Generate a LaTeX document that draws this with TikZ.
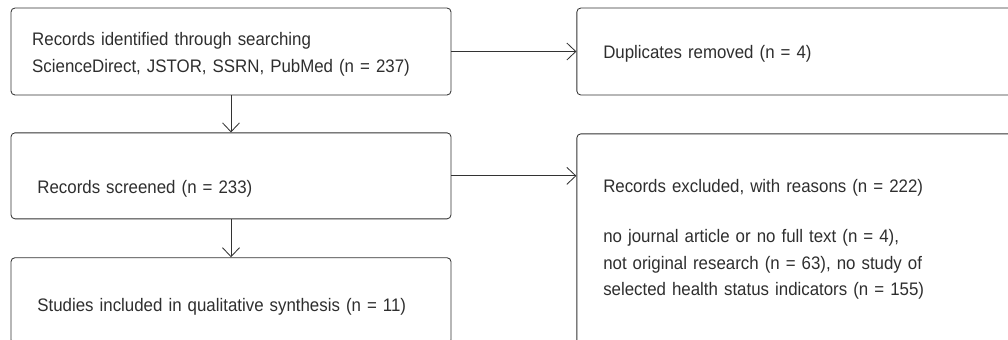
\documentclass[tikz,border=0pt]{standalone}
\usepackage{fontspec}
\setmainfont[FakeStretch=0.93]{Liberation Sans}
\usetikzlibrary{arrows.meta}
\usetikzlibrary{positioning}

\definecolor{linegray}{HTML}{333333}
\definecolor{textgray}{HTML}{2E2E2E}

\tikzset{
  box/.style={draw=linegray, line width=0.6pt, rounded corners=0.1cm,
    minimum width=11cm, minimum height=2.175cm, inner xsep=0.66cm,
    text width=9.68cm, align=left, text=textgray,
    font=\fontsize{12.9}{18.8}\selectfont},
  flow/.style={draw=linegray, line width=0.6pt,
    -{Straight Barb[length=0.225cm, width=0.425cm]}}
}

\begin{document}
\begin{tikzpicture}
    \path[use as bounding box, clip] (0,0) rectangle (25.2,-8.475);

    \node[box, inner xsep=0.53cm, text width=9.94cm,
          text height=0.35cm, text depth=0.64cm] (identified) at (5.775,-1.2875)
        {Records identified through searching\\
         ScienceDirect, JSTOR, SSRN, PubMed (n = 237)};
    \node[box, text height=0.35cm, text depth=0pt] (duplicates) [right=3.125cm of identified]
        {Duplicates removed (n = 4)};
    \node[box, minimum height=2.15cm, text height=0.9cm, text depth=0pt] (screened) [below=0.925cm of identified]
        {Records screened (n = 233)};
    \node[box, minimum height=5.3cm, text height=0.35cm, text depth=2.7cm] (excluded)
        [right=3.125cm of screened.north east, anchor=north west, yshift=-0.025cm]
        {Records excluded, with reasons (n = 222)\\[0.59cm]
         no journal article or no full text (n = 4),\\
         not original research (n = 63), no study of\\
         selected health status indicators (n = 155)};
    \node[box, minimum height=2.15cm, text height=0.55cm, text depth=0pt] (studies) [below=0.95cm of screened]
        {Studies included in qualitative synthesis (n = 11)};

    \draw[flow] (identified) -- (duplicates);
    \draw[flow] (identified) -- (screened);
    \draw[flow] (screened.east) -- (screened.east -| excluded.west);
    \draw[flow] (screened) -- (studies);
\end{tikzpicture}
\end{document}
